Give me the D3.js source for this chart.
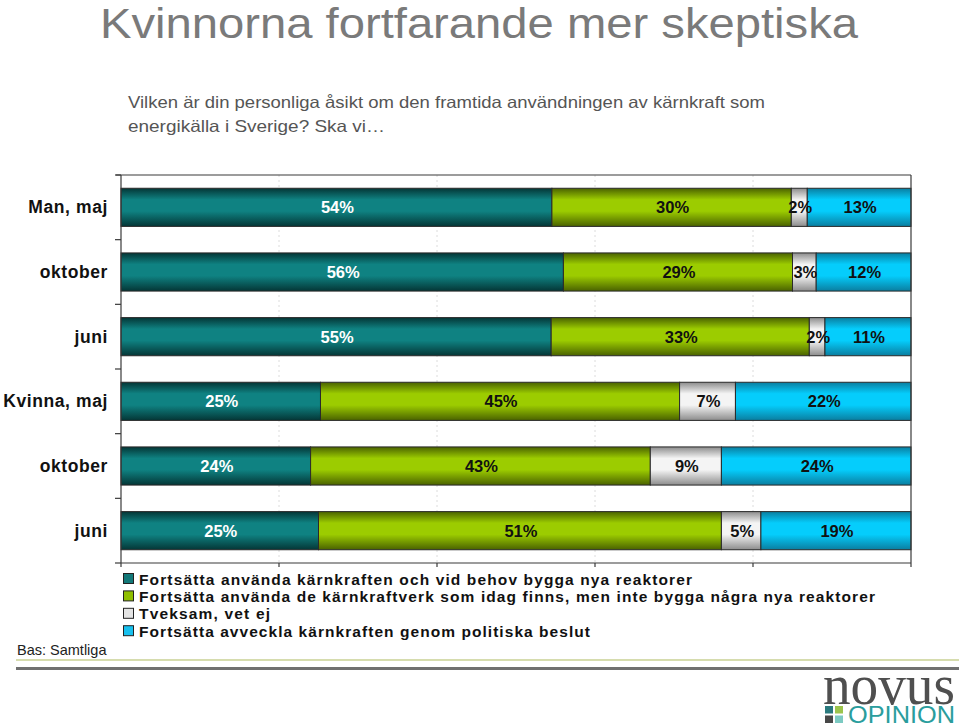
<!DOCTYPE html>
<html><head><meta charset="utf-8">
<script src="https://cdn.jsdelivr.net/npm/d3@7"></script>
<style>body{margin:0;background:#fff}svg{display:block}</style>
</head><body>
<script>
const categories = ["Man, maj","oktober","juni","Kvinna, maj","oktober ","juni "];
const seriesNames = [
  "Fortsätta använda kärnkraften och vid behov bygga nya reaktorer",
  "Fortsätta använda de kärnkraftverk som idag finns, men inte bygga några nya reaktorer",
  "Tveksam, vet ej",
  "Fortsätta avveckla kärnkraften genom politiska beslut"
];
const bygga   = [54,56,55,25,24,25];
const anvanda = [30,29,33,45,43,51];
const tveksam = [2,3,2,7,9,5];
const avveckla= [13,12,11,22,24,19];
const xTicks = [0,0.2,0.4,0.6,0.8,1];
const title = "Kvinnorna fortfarande mer skeptiska";
const subtitle = ["Vilken är din personliga åsikt om den framtida användningen av kärnkraft som","energikälla i Sverige? Ska vi…"];

const W=959,H=726;
const svg=d3.select("body").append("svg").attr("width",W).attr("height",H);
const defs=svg.append("defs");
const pal=[
  {id:"g0",edge:"#043636",mid:"#0f8282",flat:"#127878",text:"#fff"},
  {id:"g1",edge:"#4a6200",mid:"#9ccc00",flat:"#8fbf00",text:"#111"},
  {id:"g2",edge:"#8c8c8c",mid:"#f4f4f4",flat:"#e4e4e4",text:"#111"},
  {id:"g3",edge:"#0a7ea0",mid:"#05cdfc",flat:"#17c0ee",text:"#111"}
];
pal.forEach(p=>{
  const g=defs.append("linearGradient").attr("id",p.id).attr("x1",0).attr("y1",0).attr("x2",0).attr("y2",1);
  [[0,p.edge],[0.3,p.mid],[0.6,p.mid],[1,p.edge]].forEach(s=>g.append("stop").attr("offset",s[0]).attr("stop-color",s[1]));
});

// Title
svg.append("text").attr("x",100).attr("y",38).attr("font-family","Liberation Sans, Arial, sans-serif")
  .attr("font-size",43).attr("fill","#7a7a7a").attr("textLength",758).attr("lengthAdjust","spacingAndGlyphs").text(title);
subtitle.forEach((s,i)=>svg.append("text").attr("x",128).attr("y",108+i*24)
  .attr("font-family","Liberation Sans, Arial, sans-serif").attr("font-size",16.5).attr("fill","#555")
  .attr("textLength",i===0?637:257).attr("lengthAdjust","spacingAndGlyphs").text(s));

const x=d3.scaleLinear().domain([0,1]).range([121,911]);
const y=d3.scaleBand().domain(categories).range([175,563]).paddingInner(0.41).paddingOuter(0.205);

// gridlines
svg.append("g").selectAll("line").data(xTicks.slice(1,-1)).join("line")
  .attr("x1",d=>x(d)).attr("x2",d=>x(d)).attr("y1",175).attr("y2",563)
  .attr("stroke","#dcdcdc").attr("stroke-dasharray","2,3");

const seriesVals=[bygga,anvanda,tveksam,avveckla];
const rows=categories.map((c,i)=>{
  const vals=seriesVals.map(s=>s[i]);const tot=d3.sum(vals);let acc=0;
  return vals.map((v,k)=>{const r={cat:c,k,v,x0:acc/tot,x1:(acc+v)/tot};acc+=v;return r;});
});
const segs=rows.flat();
svg.append("g").selectAll("rect").data(segs).join("rect")
  .attr("x",d=>x(d.x0)).attr("width",d=>x(d.x1)-x(d.x0))
  .attr("y",d=>y(d.cat)).attr("height",y.bandwidth())
  .attr("fill",d=>`url(#${pal[d.k].id})`).attr("stroke","#2a2a2a").attr("stroke-width",1);
svg.append("g").selectAll("text").data(segs).join("text")
  .attr("x",d=>(x(d.x0)+x(d.x1))/2+1).attr("y",d=>y(d.cat)+y.bandwidth()/2+6)
  .attr("text-anchor","middle").attr("font-family","Liberation Sans, Arial, sans-serif")
  .attr("font-weight","bold").attr("font-size",16.5).attr("fill",d=>pal[d.k].text).text(d=>d.v+"%");

// frame / axes
const fr=svg.append("g").attr("stroke","#3a3a3a").attr("stroke-width",1.2).attr("fill","none");
fr.append("line").attr("x1",116).attr("x2",x(1)).attr("y1",175).attr("y2",175);
fr.append("line").attr("x1",x(1)).attr("x2",x(1)).attr("y1",175).attr("y2",563);
fr.append("line").attr("x1",x(0)).attr("x2",x(1)).attr("y1",563).attr("y2",563);
fr.append("line").attr("x1",x(0)).attr("x2",x(0)).attr("y1",175).attr("y2",563);
d3.range(categories.length+1).forEach(i=>{
  const yy=y.range()[0]+i*y.step();
  fr.append("line").attr("x1",115).attr("x2",x(0)).attr("y1",yy).attr("y2",yy);
});
xTicks.forEach(t=>fr.append("line").attr("x1",x(t)).attr("x2",x(t)).attr("y1",563).attr("y2",567));

// category labels
svg.append("g").selectAll("text").data(categories).join("text")
  .attr("x",108).attr("y",d=>y(d)+y.bandwidth()/2+6).attr("text-anchor","end")
  .attr("font-family","Liberation Sans, Arial, sans-serif").attr("font-weight","bold").attr("font-size",17.5)
  .attr("letter-spacing",0.6).attr("fill","#111").text(d=>d.trim());

// legend
const lg=svg.append("g");
const legW=[553,736,131,451];
seriesNames.forEach((s,i)=>{
  const yy=579+i*17.4;
  lg.append("rect").attr("x",123.5).attr("y",yy-5.5).attr("width",10).attr("height",10)
    .attr("fill",pal[i].flat).attr("stroke","#222").attr("stroke-width",1);
  lg.append("text").attr("x",139).attr("y",yy+5.5).attr("font-family","Liberation Sans, Arial, sans-serif")
    .attr("font-weight","bold").attr("font-size",15.5).attr("fill","#111")
    .attr("textLength",legW[i]).attr("lengthAdjust","spacing").text(s);
});

svg.append("text").attr("x",17).attr("y",655).attr("font-family","Liberation Sans, Arial, sans-serif")
  .attr("font-size",14.5).attr("fill","#222").text("Bas: Samtliga");

// bottom rules
svg.append("rect").attr("x",16).attr("y",659).attr("width",W-16).attr("height",2).attr("fill","#d6dcae");
svg.append("rect").attr("x",16).attr("y",667).attr("width",W-16).attr("height",3).attr("fill","#707070");

// logo
svg.append("text").attr("x",823).attr("y",704).attr("font-family","Liberation Serif, serif")
  .attr("font-size",56).attr("fill","#4f4f4f").attr("textLength",132).attr("lengthAdjust","spacingAndGlyphs").text("novus");
svg.append("text").attr("x",848).attr("y",723).attr("font-family","Liberation Sans, Arial, sans-serif")
  .attr("font-size",24).attr("fill","#2a9d9d").attr("textLength",107).attr("lengthAdjust","spacingAndGlyphs").text("OPINION");
const sq=[["#2a7a7e",0,0],["#9cc44c",1,0],["#474747",0,1],["#7ccac2",1,1]];
sq.forEach(s=>svg.append("rect").attr("x",825+s[1]*10).attr("y",706+s[2]*9.5).attr("width",8).attr("height",7.5).attr("fill",s[0]));
</script>
</body></html>
